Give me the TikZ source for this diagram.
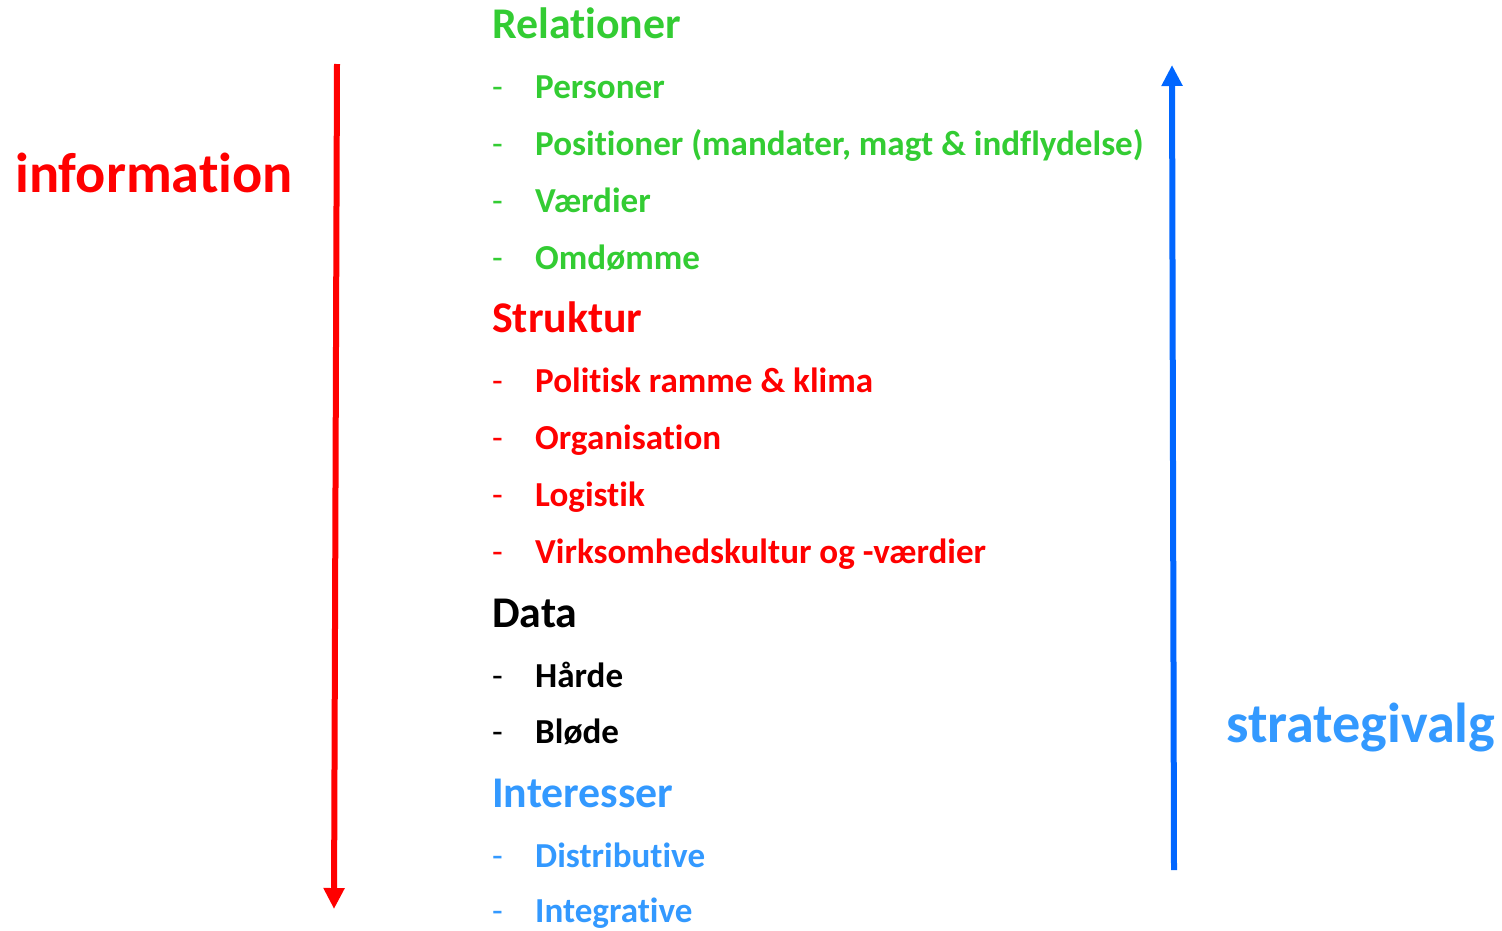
\documentclass[tikz,border=0pt]{standalone}
\usepackage{fontspec}
\setmainfont[Ligatures=NoCommon]{Carlito}
\usetikzlibrary{arrows.meta}
\definecolor{cgreen}{RGB}{51,204,51}
\definecolor{cred}{RGB}{255,0,0}
\definecolor{cblue}{RGB}{51,153,255}
\definecolor{carrowblue}{RGB}{0,102,255}
\tikzset{
  head/.style={anchor=base west,inner sep=0pt,font=\fontsize{44}{46}\selectfont\bfseries},
  item/.style={anchor=base west,inner sep=0pt,font=\fontsize{35.2}{37}\selectfont\bfseries},
  dsh/.style={anchor=base west,inner sep=0pt,font=\fontsize{35.2}{37}\selectfont},
  side/.style={anchor=base west,inner sep=0pt,font=\fontsize{56.5}{58}\selectfont\bfseries},
  bigarrow/.style={line width=6bp,-{Triangle[width=20bp,length=21bp]}}
}
\begin{document}
\begin{tikzpicture}[x=1bp,y=-1bp]
\useasboundingbox (0,0) rectangle (1502,930);
% left label and arrow
\node[side,text=cred] (info) at (15,192) {information};
\coordinate (rtop) at (337,64);
\coordinate (rbot) at (334,909);
\draw[bigarrow,cred] (rtop) -- (rbot);
% right label and arrow
\node[side,text=cblue] (strat) at (1226,742) {strategivalg};
\coordinate (bbot) at (1174,870);
\coordinate (btop) at (1172,65);
\draw[bigarrow,carrowblue] (bbot) -- (btop);
% Relationer
\node[head,text=cgreen] (h1) at (492,38) {Relationer};
\foreach \y/\t/\n in {98/Personer/a,155/{Positioner (mandater, magt \& indflydelse)}/b,212/Værdier/c,269/Omdømme/d}{
  \node[dsh,text=cgreen] (d1\n) at (492,\y) {-};
  \node[item,text=cgreen] (i1\n) at (535,\y) {\t};
}
% Struktur
\node[head,text=cred] (h2) at (492,332) {Struktur};
\foreach \y/\t/\n in {392/{Politisk ramme \& klima}/a,449/Organisation/b,506/Logistik/c,563/{Virksomhedskultur og -værdier}/d}{
  \node[dsh,text=cred] (d2\n) at (492,\y) {-};
  \node[item,text=cred] (i2\n) at (535,\y) {\t};
}
% Data
\node[head,text=black] (h3) at (492,627) {Data};
\foreach \y/\t/\n in {687/Hårde/a,743/Bløde/b}{
  \node[dsh,text=black] (d3\n) at (492,\y) {-};
  \node[item,text=black] (i3\n) at (535,\y) {\t};
}
% Interesser
\node[head,text=cblue] (h4) at (492,807) {Interesser};
\foreach \y/\t/\n in {867/Distributive/a,922/Integrative/b}{
  \node[dsh,text=cblue] (d4\n) at (492,\y) {-};
  \node[item,text=cblue] (i4\n) at (535,\y) {\t};
}
\end{tikzpicture}
\end{document}
